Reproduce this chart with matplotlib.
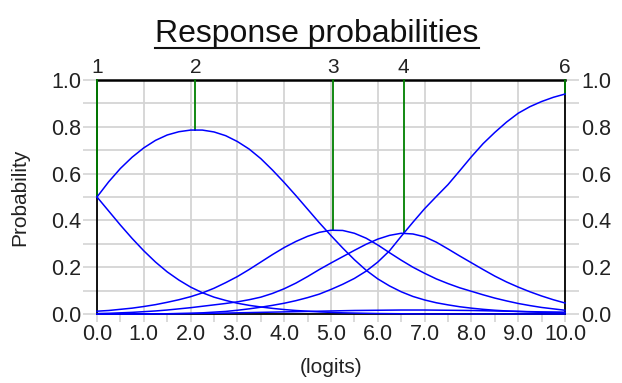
import matplotlib
matplotlib.use("Agg")
import matplotlib.pyplot as plt
from matplotlib.lines import Line2D
import numpy as np

plt.rcParams['font.family'] = ['Liberation Sans', 'DejaVu Sans']

logits = np.linspace(0.0, 10.0, 41)
cat1 = [0.50, 0.44, 0.38, 0.323, 0.27, 0.222, 0.18, 0.145, 0.115, 0.091, 0.072,
        0.058, 0.046, 0.037, 0.030, 0.024, 0.019, 0.015, 0.012, 0.009, 0.007,
        0.005, 0.004, 0.003, 0.002, 0.0015, 0.001, 0.0005, 0.0, 0.0, 0.0,
        0.0, 0.0, 0.0, 0.0, 0.0, 0.0, 0.0, 0.0, 0.0, 0.0]
cat2 = [0.50, 0.565, 0.622, 0.67, 0.71, 0.742, 0.765, 0.779, 0.786, 0.786, 0.778,
        0.762, 0.737, 0.705, 0.664, 0.615, 0.562, 0.506, 0.448, 0.39, 0.335,
        0.282, 0.232, 0.187, 0.15, 0.12, 0.095, 0.075, 0.06, 0.048, 0.039,
        0.031, 0.025, 0.02, 0.016, 0.013, 0.011, 0.009, 0.007, 0.006, 0.005]
cat3 = [0.012, 0.015, 0.02, 0.025, 0.032, 0.04, 0.05, 0.061, 0.074, 0.09, 0.11,
        0.134, 0.16, 0.19, 0.222, 0.254, 0.284, 0.31, 0.332, 0.349, 0.358,
        0.357, 0.345, 0.324, 0.295, 0.262, 0.23, 0.2, 0.174, 0.15, 0.13,
        0.112, 0.097, 0.082, 0.068, 0.056, 0.045, 0.036, 0.028, 0.022, 0.016]
cat4 = [0.002, 0.003, 0.005, 0.007, 0.01, 0.013, 0.017, 0.022, 0.027, 0.033, 0.039,
        0.045, 0.052, 0.061, 0.072, 0.088, 0.108, 0.132, 0.16, 0.19, 0.218,
        0.245, 0.272, 0.298, 0.32, 0.336, 0.345, 0.342, 0.33, 0.307, 0.278,
        0.248, 0.219, 0.19, 0.162, 0.137, 0.115, 0.095, 0.077, 0.061, 0.047]
cat5 = [0.0, 0.0, 0.0, 0.0, 0.0, 0.001, 0.001, 0.0015, 0.002, 0.0025, 0.003,
        0.004, 0.005, 0.006, 0.007, 0.008, 0.009, 0.010, 0.011, 0.012, 0.013,
        0.014, 0.015, 0.0155, 0.016, 0.0165, 0.017, 0.017, 0.017, 0.0165, 0.016,
        0.0155, 0.015, 0.014, 0.013, 0.012, 0.011, 0.010, 0.009, 0.0085, 0.008]
cat6 = [0.0, 0.0, 0.0, 0.0, 0.0, 0.001, 0.001, 0.002, 0.003, 0.005, 0.008,
        0.011, 0.016, 0.022, 0.029, 0.037, 0.046, 0.057, 0.07, 0.085, 0.105,
        0.127, 0.152, 0.183, 0.222, 0.27, 0.332, 0.392, 0.45, 0.502, 0.553,
        0.612, 0.672, 0.728, 0.776, 0.82, 0.858, 0.886, 0.908, 0.926, 0.94]
curves = [cat1, cat2, cat3, cat4, cat5, cat6]

# modal points of the categories shown along the top
mode_labels = ['1', '2', '3', '4', '6']
mode_x = [0.0, 2.1, 5.05, 6.55, 10.0]
mode_p = [0.50, 0.786, 0.359, 0.345, 0.94]

fig = plt.figure(figsize=(6.22, 3.83), dpi=100)
ax = fig.add_axes([97 / 622, 1 - 314 / 383, 468 / 622, 234 / 383])

for c in curves:
    ax.plot(logits, c, color='#0000ff', lw=1.1, zorder=3, clip_on=False)

for x, p in zip(mode_x, mode_p):
    ax.plot([x, x], [p, 1.0], color='#008000', lw=1.3, zorder=2.8, clip_on=False)
for x, lab in zip(mode_x, mode_labels):
    ax.text(x, 1.012, lab, ha='center', va='bottom', fontsize=15, color='#222222')

ax.set_xlim(0, 10)
ax.set_ylim(0, 1)

grid_col = '#d4d4d4'
xt = np.arange(0, 10.01, 1.0)
ax.set_xticks(xt)
ax.set_xticklabels(['%.1f' % v for v in xt])
ax.set_xticks(np.arange(0.5, 10, 1.0), minor=True)
yt = np.round(np.arange(0, 1.01, 0.1), 1)
ax.set_yticks(yt)
ax.set_yticklabels(['%.1f' % v if i % 2 == 0 else '' for i, v in enumerate(yt)])
ax.grid(True, which='major', color=grid_col, lw=1.3, zorder=0)
ax.set_axisbelow(True)

ax.tick_params(axis='y', which='both', left=True, right=True, labelleft=True,
               labelright=True, length=10, width=1.2, color=grid_col,
               labelsize=15.5, labelcolor='#222222', pad=1.5)
ax.tick_params(axis='x', which='both', length=5.5, width=1.2, color=grid_col,
               labelsize=15.5, labelcolor='#222222', pad=2)

for s in ax.spines.values():
    s.set_color('#000000')
    s.set_linewidth(1.3)
ax.spines['top'].set_linewidth(1.8)

ax.set_xlabel('(logits)', fontsize=15, color='#222222', va='top')
ax.xaxis.set_label_coords(0.5, -(358 - 314) / 234)
ax.set_ylabel('Probability', fontsize=15, color='#222222')
ax.yaxis.set_label_coords(-(97 - 29) / 468, 0.5)

title = fig.text(317 / 622, 1 - 42 / 383, 'Response probabilities', ha='center',
                 va='baseline', fontsize=23, color='#111111')
fig.canvas.draw()
bb = title.get_window_extent().transformed(fig.transFigure.inverted())
fig.add_artist(Line2D([bb.x0, bb.x1], [1 - 48 / 383] * 2, color='#111111', lw=1.5,
                      transform=fig.transFigure))

fig.savefig('out.png', dpi=100)
